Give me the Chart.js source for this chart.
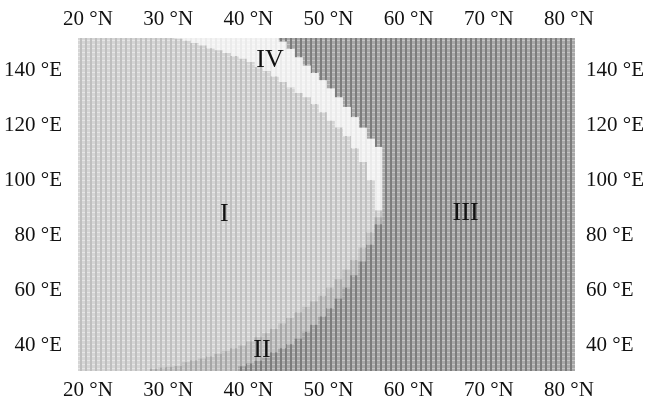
<!DOCTYPE html>
<html>
<head>
<meta charset="utf-8">
<script src="https://cdn.jsdelivr.net/npm/chart.js@4/dist/chart.umd.min.js"></script>
<style>
  html, body { margin: 0; padding: 0; background: #fff; }
</style>
</head>
<body>
<canvas id="map" width="651" height="400"></canvas>
<script>
// axis ranges and ticks
const latMin = 30.9, latMax = 151.6;
const lonMin = 18.75, lonMax = 80.75;
const lonTicks = [20, 30, 40, 50, 60, 70, 80];
const latTicks = [40, 60, 80, 100, 120, 140];

// columns where the regions meet (column centres, in degrees N)
const cols = [19.25, 20.25, 21.25, 22.25, 23.25, 24.25, 25.25, 26.25, 27.25, 28.25,
              29.25, 30.25, 31.25, 32.25, 33.25, 34.25, 35.25, 36.25, 37.25, 38.25,
              39.25, 40.25, 41.25, 42.25, 43.25, 44.25, 45.25, 46.25, 47.25, 48.25,
              49.25, 50.25, 51.25, 52.25, 53.25, 54.25, 55.25, 56.25];
// columns that are region III from bottom to top
const colsIII = [57.25, 58.25, 59.25, 60.25, 61.25, 62.25, 63.25, 64.25, 65.25, 66.25,
                 67.25, 68.25, 69.25, 70.25, 71.25, 72.25, 73.25, 74.25, 75.25, 76.25,
                 77.25, 78.25, 79.25, 80.25];

// upper edge of region III at the bottom
const edgeIIIlow = [30.9, 30.9, 30.9, 30.9, 30.9, 30.9, 30.9, 30.9, 30.9, 30.9,
                    30.9, 30.9, 30.9, 30.9, 30.9, 30.9, 30.9, 30.9, 30.9, 30.9,
                    32.5, 33.5, 34.5, 35.5, 37.5, 39, 40.5, 42.5, 45, 47.5,
                    50.5, 53.5, 57, 61, 65.5, 70.5, 76.5, 84];
// upper edge of region II
const edgeII = [30.9, 30.9, 30.9, 30.9, 30.9, 30.9, 30.9, 30.9, 30.9, 31.5,
                32, 32.3, 32.6, 34, 34.6, 35.3, 36, 37, 38, 39,
                40, 41.5, 43, 44.5, 46, 48, 50, 52, 54, 56,
                58, 61, 64, 67.5, 71, 75.5, 81, 86.5];
// upper edge of region I
const edgeI = [151.6, 151.6, 151.6, 151.6, 151.6, 151.6, 151.6, 151.6, 151.6, 151.6,
               151.6, 151.6, 151.2, 150.5, 149.7, 148.8, 147.8, 147, 146, 145,
               144, 142.8, 141, 139.5, 137.5, 135.5, 133.5, 131.5, 130, 127.6,
               124.6, 121.5, 119, 116, 111.5, 106.5, 100, 89];
// upper edge of region IV (above it region III again)
const edgeIV = [151.6, 151.6, 151.6, 151.6, 151.6, 151.6, 151.6, 151.6, 151.6, 151.6,
                151.6, 151.6, 151.6, 151.6, 151.6, 151.6, 151.6, 151.6, 151.6, 151.6,
                151.6, 151.6, 151.6, 151.6, 151.6, 150.2, 147.5, 144.5, 141.5, 138.8,
                136.2, 133.2, 130, 126.5, 122.8, 119, 115, 112];

const regionNames = ['I', 'II', 'III', 'IV'];
const regionLon = [37.0, 41.7, 67.1, 42.7];
const regionLat = [87.8, 38.6, 88.2, 143.6];

// hatched fill like the printed figure
function hatch(base, vline, hline) {
  const c = document.createElement('canvas');
  c.width = 5; c.height = 4;
  const g = c.getContext('2d');
  g.fillStyle = base; g.fillRect(0, 0, 5, 4);
  g.fillStyle = hline; g.fillRect(0, 0, 5, 1);
  g.fillStyle = vline; g.fillRect(0, 0, 2, 4);
  return g.createPattern(c, 'repeat');
}
const fillI = hatch('#d5d5d5', '#bfbfbf', '#e6e6e6');
const fillII = hatch('#c4c4c4', '#a6a6a6', '#d4d4d4');
const fillIII = hatch('#a8a8a8', '#7c7c7c', '#c4c4c4');
const fillIV = hatch('#f3f3f3', '#ebebeb', '#f8f8f8');

function span(lo, hi) {
  const out = [];
  cols.forEach((x, i) => {
    if (hi[i] - lo[i] > 0) out.push({ x: x, y: [lo[i], hi[i]] });
  });
  return out;
}
const colBottom = cols.map(() => latMin);
const colTop = cols.map(() => latMax);

function region(label, data, fill) {
  return {
    label: label,
    data: data,
    backgroundColor: fill,
    borderWidth: 0,
    grouped: false,
    barPercentage: 1,
    categoryPercentage: 1,
  };
}

const regionText = {
  id: 'regionText',
  afterDatasetsDraw(chart) {
    const ctx = chart.ctx;
    const xs = chart.scales.x, ys = chart.scales.y;
    ctx.save();
    ctx.font = '26px "Liberation Serif"';
    ctx.fillStyle = '#111';
    ctx.textAlign = 'center';
    ctx.textBaseline = 'middle';
    regionNames.forEach((t, i) => {
      ctx.fillText(t, xs.getPixelForValue(regionLon[i]), ys.getPixelForValue(regionLat[i]));
    });
    ctx.restore();
  }
};

const tickFont = { family: '"Liberation Serif"', size: 21 };
const setTicks = list => axis => { axis.ticks = list.map(v => ({ value: v })); };
const noPad = axis => {
  axis.paddingLeft = 0; axis.paddingRight = 0;
  axis.paddingTop = 0; axis.paddingBottom = 0;
};

function lonAxis(pos, pad, h) {
  return {
    type: 'linear', position: pos, min: lonMin, max: lonMax, offset: false,
    grid: { display: false }, border: { display: false },
    afterBuildTicks: setTicks(lonTicks),
    afterFit: axis => { axis.height = h; noPad(axis); },
    ticks: { font: tickFont, color: '#111', padding: pad, maxRotation: 0,
             callback: v => v + ' °N' },
  };
}
function latAxis(pos, pad, w) {
  return {
    type: 'linear', position: pos, min: latMin, max: latMax,
    grid: { display: false }, border: { display: false },
    afterBuildTicks: setTicks(latTicks),
    afterFit: axis => { axis.width = w; noPad(axis); },
    ticks: { font: tickFont, color: '#111', padding: pad,
             callback: v => v + ' °E' },
  };
}

new Chart(document.getElementById('map'), {
  type: 'bar',
  data: {
    datasets: [
      region('III', span(colBottom, edgeIIIlow).concat(colsIII.map(x => ({ x: x, y: [latMin, latMax] }))), fillIII),
      region('II', span(edgeIIIlow, edgeII), fillII),
      region('I', span(edgeII, edgeI), fillI),
      region('IV', span(edgeI, edgeIV), fillIV),
      region('III top', span(edgeIV, colTop), fillIII),
    ],
  },
  options: {
    responsive: false,
    devicePixelRatio: 1,
    animation: false,
    layout: { padding: 0 },
    plugins: { legend: { display: false }, tooltip: { enabled: false } },
    scales: {
      x: lonAxis('bottom', -1, 29),
      x2: lonAxis('top', -2, 38),
      y: latAxis('left', 8, 78),
      y2: latAxis('right', 3, 76),
    },
  },
  plugins: [regionText],
});
</script>
</body>
</html>
